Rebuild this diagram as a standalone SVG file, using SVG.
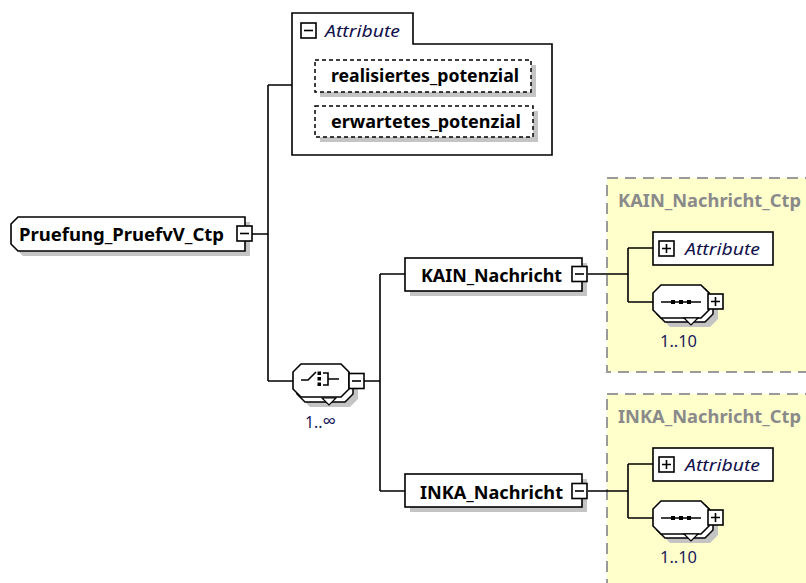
<svg xmlns="http://www.w3.org/2000/svg" width="806" height="583" viewBox="0 0 806 583">
<style>
.ln{fill:none;stroke:#000;stroke-width:1.6}
.bx{fill:#fff;stroke:#000;stroke-width:1.6}
.sh{fill:#c4c4c4;stroke:none}
.dsh{fill:#fff;stroke:#000;stroke-width:1.5;stroke-dasharray:4 3}
.ctp{fill:#ffffcc;stroke:#9a9a9a;stroke-width:2;stroke-dasharray:11 7}
.nm{font-family:"Noto Sans","Open Sans","Liberation Sans",sans-serif;font-weight:bold;font-size:17px;fill:#000}
.gr{font-family:"Noto Sans","Open Sans","Liberation Sans",sans-serif;font-weight:bold;font-size:17px;fill:#8a8a8a}
.it{font-family:"Noto Sans","Open Sans","Liberation Sans",sans-serif;font-style:italic;font-size:16.5px;fill:#10104a}
.oc{font-family:"Noto Sans","Open Sans","Liberation Sans",sans-serif;font-size:16.5px;fill:#1a1a5a}
.dot{fill:#000}
</style>
<defs>
<g id="oct">
<path d="M8,0 H48 L56,8 V25 L48,33 H8 L0,25 V8 Z"/>
</g>
<g id="minus"><rect class="bx" x="0" y="0" width="15" height="15"/><path class="ln" d="M3,7.5 H12"/></g>
<g id="plus"><rect class="bx" x="0" y="0" width="15" height="15"/><path class="ln" d="M3,7.5 H12 M7.5,3 V12"/></g>
</defs>

<g id="ctp-kain">
<rect class="ctp" x="607" y="178" width="220" height="194"/>
<text class="gr" x="618" y="207" textLength="183" lengthAdjust="spacingAndGlyphs">KAIN_Nachricht_Ctp</text>
</g>
<g id="ctp-inka">
<rect class="ctp" x="607" y="394" width="220" height="220"/>
<text class="gr" x="618" y="423" textLength="183" lengthAdjust="spacingAndGlyphs">INKA_Nachricht_Ctp</text>
</g>

<g id="connectors">
<path class="ln" d="M252,234 H268 M268,85 V381 M268,85 H292 M268,381 H293"/>
<path class="ln" d="M364,381 H380 M380,274 V491 M380,274 H405 M380,491 H405"/>
<path class="ln" d="M588,274 H628 M628,248 V302 M628,248 H653 M628,302 H653"/>
<path class="ln" d="M588,491 H628 M628,464 V518 M628,464 H653 M628,518 H653"/>
</g>

<g id="root">
<path class="sh" d="M23,222 H250 V256 H23 L16,249 V229 Z"/>
<path class="bx" d="M18,217 H245 V251 H18 L11,244 V224 Z"/>
<text class="nm" x="19" y="241" textLength="205" lengthAdjust="spacingAndGlyphs">Pruefung_PruefvV_Ctp</text>
<use href="#minus" x="237" y="226"/>
</g>

<g id="attributes">
<path class="bx" d="M292,13 H413 V44 H552 V155 H292 Z"/>
<use href="#minus" x="301" y="23"/>
<text class="it" x="325" y="37" textLength="75" lengthAdjust="spacingAndGlyphs">Attribute</text>
</g>
<g id="attr-realisiert">
<rect class="sh" x="320" y="65" width="216" height="32"/>
<rect class="dsh" x="315" y="60" width="216" height="32"/>
<text class="nm" x="331" y="82" textLength="188" lengthAdjust="spacingAndGlyphs">realisiertes_potenzial</text>
</g>
<g id="attr-erwartet">
<rect class="sh" x="320" y="111" width="218" height="31"/>
<rect class="dsh" x="315" y="106" width="218" height="31"/>
<text class="nm" x="331" y="128" textLength="190" lengthAdjust="spacingAndGlyphs">erwartetes_potenzial</text>
</g>

<g id="choice">
<use href="#oct" x="302" y="374" fill="#c4c4c4"/>
<use href="#oct" x="297" y="369" fill="#fff" stroke="#000" stroke-width="1.5"/>
<use href="#oct" x="293" y="364" fill="#fff" stroke="#000" stroke-width="1.6"/>
<path d="M322,398 L336,398 L329,405 Z" fill="#fff" stroke="#000" stroke-width="1.2"/>
<path class="ln" d="M301,380 H308 L316,372"/>
<rect class="dot" x="317.5" y="371.5" width="3.5" height="3.5"/>
<rect class="dot" x="317.5" y="377" width="3.5" height="3.5"/>
<rect class="dot" x="317.5" y="382.5" width="3.5" height="3.5"/>
<path class="ln" d="M323,373 H328 V385 H323 M328,379 H339"/>
<use href="#minus" x="349" y="373.5"/>
<text class="oc" x="305" y="428" textLength="31" lengthAdjust="spacingAndGlyphs">1..<tspan font-size="20px">∞</tspan></text>
</g>

<g id="kain">
<rect class="sh" x="410" y="263" width="177" height="33"/>
<rect class="bx" x="405" y="258" width="177" height="33"/>
<text class="nm" x="421" y="282" textLength="141" lengthAdjust="spacingAndGlyphs">KAIN_Nachricht</text>
<use href="#minus" x="572" y="266.5"/>
</g>
<g id="inka">
<rect class="sh" x="410" y="479" width="177" height="33"/>
<rect class="bx" x="405" y="474" width="177" height="33"/>
<text class="nm" x="420" y="499" textLength="143" lengthAdjust="spacingAndGlyphs">INKA_Nachricht</text>
<use href="#minus" x="572" y="483.5"/>
</g>

<g id="kain-attr">
<rect class="bx" x="653" y="232" width="120" height="33"/>
<use href="#plus" x="659" y="241"/>
<text class="it" x="685" y="255" textLength="75" lengthAdjust="spacingAndGlyphs">Attribute</text>
</g>
<g id="kain-seq">
<use href="#oct" x="662" y="294" fill="#c4c4c4"/>
<use href="#oct" x="657" y="289" fill="#fff" stroke="#000" stroke-width="1.5"/>
<use href="#oct" x="653" y="285" fill="#fff" stroke="#000" stroke-width="1.6"/>
<path d="M684,318 L698,318 L691,325 Z" fill="#fff" stroke="#000" stroke-width="1.2"/>
<path class="ln" d="M661,302 H701"/>
<rect class="dot" x="671" y="300" width="4" height="4"/>
<rect class="dot" x="679" y="300" width="4" height="4"/>
<rect class="dot" x="687" y="300" width="4" height="4"/>
<use href="#plus" x="708" y="294"/>
<text class="oc" x="660" y="347" textLength="37" lengthAdjust="spacingAndGlyphs">1..10</text>
</g>

<g id="inka-attr">
<rect class="bx" x="653" y="448" width="120" height="33"/>
<use href="#plus" x="659" y="457"/>
<text class="it" x="685" y="471" textLength="75" lengthAdjust="spacingAndGlyphs">Attribute</text>
</g>
<g id="inka-seq">
<use href="#oct" x="662" y="510" fill="#c4c4c4"/>
<use href="#oct" x="657" y="505" fill="#fff" stroke="#000" stroke-width="1.5"/>
<use href="#oct" x="653" y="501" fill="#fff" stroke="#000" stroke-width="1.6"/>
<path d="M684,534 L698,534 L691,541 Z" fill="#fff" stroke="#000" stroke-width="1.2"/>
<path class="ln" d="M661,518 H701"/>
<rect class="dot" x="671" y="516" width="4" height="4"/>
<rect class="dot" x="679" y="516" width="4" height="4"/>
<rect class="dot" x="687" y="516" width="4" height="4"/>
<use href="#plus" x="708" y="510"/>
<text class="oc" x="660" y="563" textLength="37" lengthAdjust="spacingAndGlyphs">1..10</text>
</g>
</svg>
